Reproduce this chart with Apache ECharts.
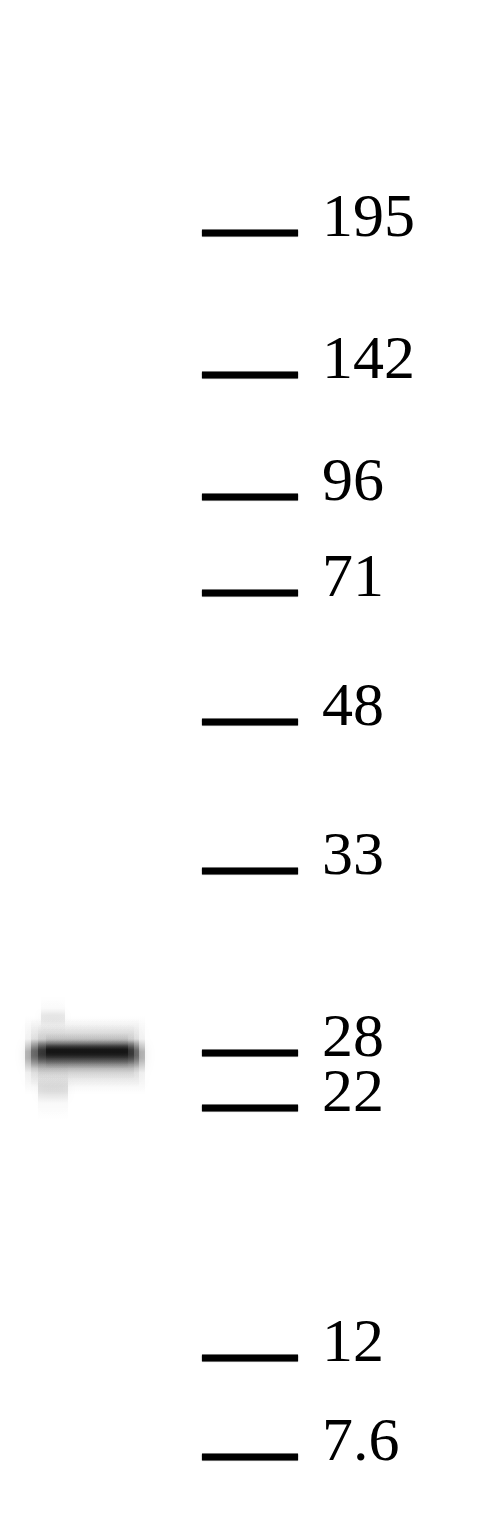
<!DOCTYPE html>
<html>
<head>
<meta charset="utf-8">
<script src="https://cdn.jsdelivr.net/npm/echarts@6/dist/echarts.min.js"></script>
<style>
html,body{margin:0;padding:0;background:#fff;}
#blot{width:501px;height:1520px;}
</style>
</head>
<body>
<div id="blot"></div>
<script>
// marker ladder (kDa) and where each marker sits down the gel (px from top)
var markerMW = ['195', '142', '96', '71', '48', '33', '28', '22', '12', '7.6'];
var markerPos = [233, 375, 497, 593, 722, 871, 1053, 1108, 1358, 1457];
var markerLane = 250;

// sample lane band
var bandLane = [85];
var bandPos = [1051];

var chart = echarts.init(document.getElementById('blot'));

var ladder = markerPos.map(function(p, i){
	return {value:[markerLane, p], name:markerMW[i]};
});

//竖直方向渐变,做出模糊的条带
function fade(a){
	return new echarts.graphic.LinearGradient(0, 0, 0, 1, [
		{offset:0, color:'rgba(0,0,0,0)'},
		{offset:0.3, color:'rgba(0,0,0,' + (a * 0.18) + ')'},
		{offset:0.46, color:'rgba(0,0,0,' + a + ')'},
		{offset:0.54, color:'rgba(0,0,0,' + a + ')'},
		{offset:0.72, color:'rgba(0,0,0,' + (a * 0.2) + ')'},
		{offset:1, color:'rgba(0,0,0,0)'}
	]);
}

function bandLayer(w, h, a, dx, dy, blur){
	return {
		type:'scatter',
		symbol:'rect',
		symbolSize:[w, h],
		data:bandLane.map(function(x, i){ return [x + dx, bandPos[i] + dy]; }),
		itemStyle:{color:fade(a), opacity:1, shadowBlur:blur, shadowColor:'rgba(0,0,0,0.3)'},
		silent:true,
		z:1
	};
}

var series = [
	bandLayer(120, 80, 0.25, 0, 4, 10),
	bandLayer(108, 70, 0.35, 0, 2, 8),
	bandLayer(96, 56, 0.4, 1, 1, 6),
	bandLayer(82, 36, 0.55, 2, 0, 6),
	bandLayer(30, 64, 0.1, -32, 38, 10),
	bandLayer(24, 44, 0.08, -32, -34, 10),
	{
		// ladder marks with their sizes
		type:'scatter',
		symbol:'rect',
		symbolSize:[96, 7],
		data:ladder,
		itemStyle:{color:'#000', opacity:1, shadowBlur:1.5, shadowColor:'rgba(0,0,0,0.6)'},
		label:{
			show:true,
			position:'right',
			distance:24,
			offset:[0, -13],
			formatter:function(p){ return p.name; },
			fontFamily:'Liberation Serif',
			fontSize:62,
			color:'#000'
		},
		silent:true,
		z:2
	}
];

option = {
	backgroundColor:'#fff',
	animation:false,
	grid:{left:0, right:0, top:0, bottom:0},
	xAxis:{type:'value', min:0, max:501, show:false},
	yAxis:{type:'value', min:0, max:1520, inverse:true, show:false},
	series:series
};
chart.setOption(option);
</script>
</body>
</html>
